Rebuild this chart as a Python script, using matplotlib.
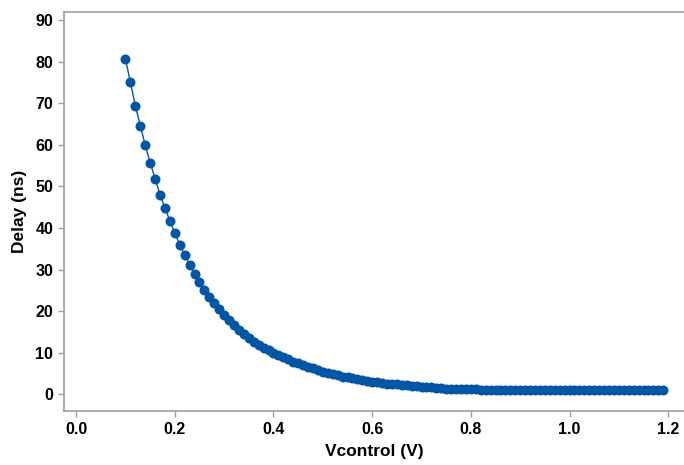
import numpy as np
import matplotlib
matplotlib.use('Agg')
import matplotlib.pyplot as plt

# control voltage steps, 0.10 .. 1.19 V
vcontrol = np.round(np.arange(0.10, 1.195, 0.01), 2)
delay = [80.6, 75.0, 69.4, 64.6, 59.9, 55.7, 51.9, 48.0, 44.9, 41.7,
         38.8, 36.0, 33.5, 31.2, 29.0, 27.0, 25.2, 23.5, 21.9, 20.5,
         19.1, 17.8, 16.6, 15.5, 14.5, 13.6, 12.7, 11.9, 11.2, 10.6,
         10.0, 9.4, 8.9, 8.4, 7.9, 7.5, 7.1, 6.7, 6.3, 5.9,
         5.5, 5.2, 4.9, 4.6, 4.3, 4.1, 3.9, 3.7, 3.5, 3.3,
         3.1, 2.9, 2.8, 2.6, 2.5, 2.4, 2.3, 2.2, 2.1, 2.0,
         1.9, 1.8, 1.7, 1.6, 1.5, 1.4, 1.4, 1.3, 1.3, 1.3,
         1.3, 1.3, 1.0, 1.0, 1.0, 1.0, 1.0, 1.0, 1.0, 1.0,
         1.0, 1.0, 1.0, 1.0, 1.0, 1.0, 1.0, 1.0, 1.0, 1.0,
         1.0, 1.0, 1.0, 1.0, 1.0, 1.0, 1.0, 1.0, 1.0, 1.0,
         1.0, 1.0, 1.0, 1.0, 1.0, 1.0, 1.0, 1.0, 1.0, 1.0]

plt.rcParams['font.family'] = ['Liberation Sans', 'DejaVu Sans']
plt.rcParams['font.weight'] = 'bold'

fig = plt.figure(figsize=(6.84, 4.65), dpi=100)
ax = fig.add_axes([0.094, 0.116, 0.906, 0.858])

blue = '#0055a5'
ax.plot(vcontrol, delay, color=blue, linewidth=1.0, marker='o',
        markersize=7.2, markeredgewidth=0)

ax.set_xlim(-0.024, 1.232)
ax.set_ylim(-4.0, 91.9)
ax.set_xticks([0.0, 0.2, 0.4, 0.6, 0.8, 1.0, 1.2])
ax.set_xticklabels(['0.0', '0.2', '0.4', '0.6', '0.8', '1.0', '1.2'])
ax.set_yticks(range(0, 91, 10))

for s in ['left', 'bottom', 'top']:
    ax.spines[s].set_color('#a0a0a0')
    ax.spines[s].set_linewidth(1.2)
ax.spines['right'].set_visible(False)
ax.tick_params(colors='#a0a0a0', labelcolor='black', length=4, width=1,
               labelsize=11.5, pad=4)
for lab in ax.get_xticklabels() + ax.get_yticklabels():
    lab.set_fontweight('bold')

ax.set_xlabel('Vcontrol (V)', fontsize=12.5, fontweight='bold', labelpad=5)
ax.set_ylabel('Delay (ns)', fontsize=12.5, fontweight='bold', labelpad=6)

fig.savefig('out.png', dpi=100)
